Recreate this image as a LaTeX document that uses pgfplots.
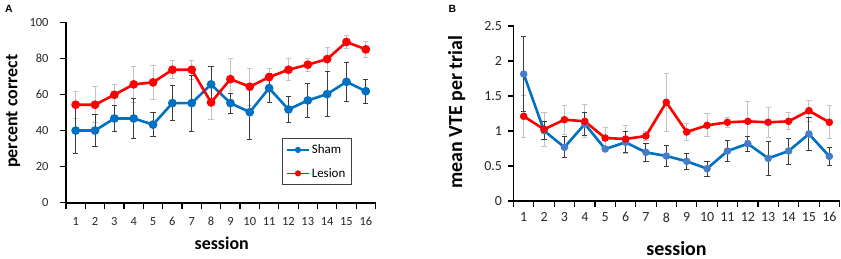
\documentclass[border=0pt]{standalone}
\usepackage{pgfplots}
\pgfplotsset{compat=1.18}
\usepackage{pgfplotstable}
\usepackage{fontspec}
\setmainfont{Carlito}
\newfontfamily\arialf{Liberation Sans}
\definecolor{shamblue}{RGB}{0,112,192}
\definecolor{shammk}{RGB}{70,125,200}
\definecolor{lesred}{RGB}{255,0,0}
\definecolor{errdark}{RGB}{60,60,60}
\definecolor{errlight}{RGB}{195,195,195}

\pgfplotstableread{
s y e
1 40 12.6
2 40 9
3 46.7 7
4 46.7 11
5 43.3 6.7
6 55.2 9.8
7 55.2 15.6
8 65.6 9.8
9 55.2 5.5
10 50.2 15
11 63.5 8
12 51.7 7.2
13 56.7 9.6
14 60.2 12.3
15 67 10.9
16 61.8 6.7
}\shamA
\pgfplotstableread{
s y e
1 54.3 7.4
2 54.3 10
3 59.8 5.8
4 65.6 9.8
5 66.7 9.4
6 73.7 5
7 73.7 5.3
8 55.6 9.3
9 68.5 11.3
10 64.3 10.3
11 69.6 5
12 73.7 6
13 76.5 3.7
14 79.6 6.7
15 89.1 3.5
16 85 4.4
}\lesA
\pgfplotstableread{
s y e
1 1.814 0.54
2 1.005 0.13
3 0.767 0.15
4 1.10 0.16
5 0.743 0.02
6 0.838 0.15
7 0.695 0.125
8 0.643 0.155
9 0.567 0.115
10 0.462 0.105
11 0.714 0.155
12 0.819 0.105
13 0.61 0.24
14 0.714 0.185
15 0.957 0.23
16 0.638 0.13
}\shamB
\pgfplotstableread{
s y e
1 1.21 0.30
2 1.024 0.24
3 1.162 0.21
4 1.138 0.235
5 0.90 0.15
6 0.886 0.2
7 0.929 0.07
8 1.41 0.41
9 0.986 0.12
10 1.081 0.165
11 1.124 0.07
12 1.138 0.28
13 1.124 0.215
14 1.138 0.12
15 1.29 0.15
16 1.124 0.235
}\lesB

\pgfplotsset{
  common/.style={
    scale only axis,
    axis x line*=bottom, axis y line*=left,
    axis line style={black, line width=1.6bp},
    xmin=0.5, xmax=16.5,
    xtick={0.5,1.5,...,16.5},
    xticklabels={1,2,3,4,5,6,7,8,9,10,11,12,13,14,15,16},
    x tick label as interval,
    tick align=outside,
    major tick length=6bp,
    every tick/.style={black, line width=1.2bp},
    /pgf/number format/assume math mode=true,
    clip=false,
    legend cell align=left,
  },
  errdk/.style={only marks, mark=none, forget plot,
    error bars/.cd, y dir=both, y explicit,
    error bar style={draw=errdark, line width=0.9bp},
    error mark options={rotate=90, draw=errdark, mark size=2.6bp, line width=0.9bp}},
  errlt/.style={only marks, mark=none, forget plot,
    error bars/.cd, y dir=both, y explicit,
    error bar style={draw=errlight, line width=0.9bp},
    error mark options={rotate=90, draw=errlight, mark size=2.6bp, line width=0.9bp}},
}

\begin{document}
\begin{tikzpicture}
\useasboundingbox (0,0) rectangle (841bp,-259bp);
\node[font=\arialf\bfseries\fontsize{10.5}{12}\selectfont] at (9bp,-8.5bp) {A};
\node[font=\arialf\bfseries\fontsize{10.5}{12}\selectfont] at (452.5bp,-9bp) {B};

\begin{axis}[common,
  at={(66bp,-202.7bp)}, anchor=south west,
  width=309.5bp, height=180.4bp,
  ymin=0, ymax=100, ytick={0,20,...,100},
  ticklabel style={font=\fontsize{12.5}{14}\selectfont, text=black!85},
  xticklabel style={yshift=-5bp},
  yticklabel style={xshift=-8bp},
  xlabel={\bfseries session}, ylabel={\bfseries percent correct},
  label style={font=\fontsize{18}{20}\selectfont},
  xlabel style={at={(axis description cs:0.503,-0.223)}, anchor=center},
  ylabel style={at={(axis description cs:-0.171,0.508)}, anchor=center},
  legend style={at={(axis description cs:0.697,0.357)}, anchor=north west,
    draw=black!75, line width=0.8bp, font=\fontsize{13}{15}\selectfont,
    row sep=9bp, inner xsep=4bp, inner ysep=4bp},
  legend image code/.code={\draw[mark repeat=2,mark phase=2,#1, line width=1.7bp, mark size=2.2bp] plot coordinates {(0bp,0bp) (11bp,0bp) (22bp,0bp)};},
]
\addplot[errlt] table[x=s,y=y,y error=e]{\lesA};
\addplot[errdk] table[x=s,y=y,y error=e]{\shamA};
\addplot[shamblue, line width=2.6bp, mark=*, mark size=3bp, mark options={solid}] table[x=s,y=y]{\shamA};
\addplot[lesred, line width=2.6bp, mark=*, mark size=3bp, mark options={solid}] table[x=s,y=y]{\lesA};
\legend{Sham,Lesion}
\end{axis}

\begin{axis}[common,
  at={(513.5bp,-201bp)}, anchor=south west,
  width=326bp, height=175bp,
  ymin=0, ymax=2.5, ytick={0,0.5,...,2.5},
  yticklabel={\pgfmathprintnumber[fixed,precision=1]{\tick}},
  ticklabel style={font=\fontsize{14}{16}\selectfont, text=black!85},
  xticklabel style={yshift=-2bp},
  yticklabel style={xshift=-2bp},
  xlabel={\bfseries session}, ylabel={\bfseries mean VTE per trial},
  label style={font=\fontsize{20}{22}\selectfont},
  xlabel style={at={(axis description cs:0.5,-0.272)}, anchor=center},
  ylabel style={at={(axis description cs:-0.174,0.509)}, anchor=center},
]
\addplot[errlt] table[x=s,y=y,y error=e]{\lesB};
\addplot[errdk] table[x=s,y=y,y error=e]{\shamB};
\addplot[shamblue, line width=2.6bp, mark=*, mark size=2.4bp, mark options={solid, fill=shammk, draw=shammk}] table[x=s,y=y]{\shamB};
\addplot[lesred, line width=2.6bp, mark=*, mark size=2.4bp, mark options={solid}] table[x=s,y=y]{\lesB};
\end{axis}
\end{tikzpicture}
\end{document}
